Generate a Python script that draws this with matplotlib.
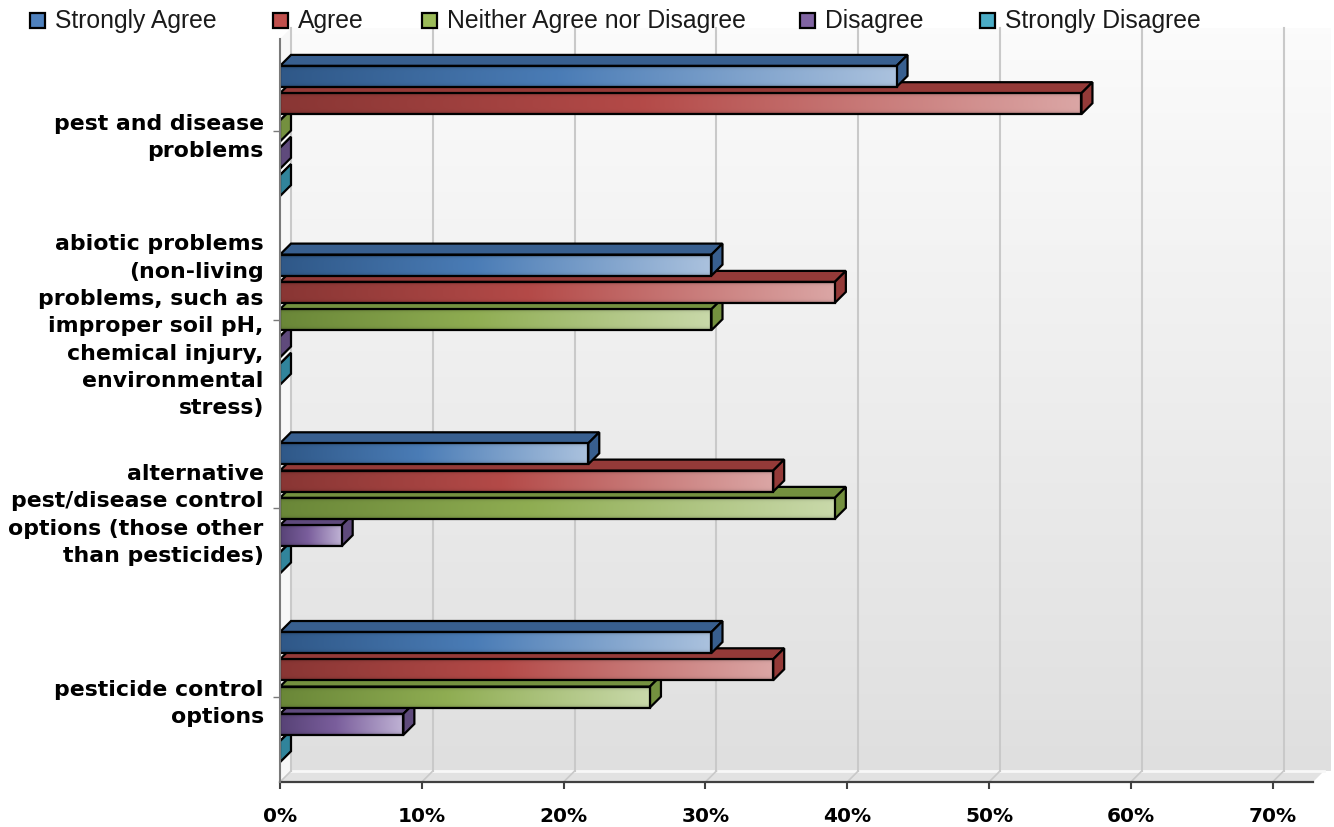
import numpy as np
import matplotlib.pyplot as plt
from matplotlib.patches import Polygon, Rectangle
from matplotlib.colors import to_rgb

# data (share of 23 respondents, %)
categories = ["pest and disease\nproblems",
              "abiotic problems\n(non-living\nproblems, such as\nimproper soil pH,\nchemical injury,\nenvironmental\nstress)",
              "alternative\npest/disease control\noptions (those other\nthan pesticides)",
              "pesticide control\noptions"]
series = ["Strongly Agree", "Agree", "Neither Agree nor Disagree", "Disagree", "Strongly Disagree"]
strongly_agree = [43.48, 30.43, 21.74, 30.43]
agree = [56.52, 39.13, 34.78, 34.78]
neither = [0.0, 30.43, 39.13, 26.09]
disagree = [0.0, 0.0, 4.35, 8.70]
strongly_disagree = [0.0, 0.0, 0.0, 0.0]
values = [strongly_agree, agree, neither, disagree, strongly_disagree]
xticks = [0, 10, 20, 30, 40, 50, 60, 70]
xtick_labels = ["0%", "10%", "20%", "30%", "40%", "50%", "60%", "70%"]

# colours: legend/base, side faces, gradient left / mid / right
base = ["#4f81bd", "#c0504d", "#9bbb59", "#8064a2", "#4bacc6"]
face = ["#385f8f", "#943a38", "#74903f", "#5f4a7c", "#31849b"]
g_left = ["#2f5888", "#893634", "#6a8738", "#574276", "#2e7f95"]
g_mid = ["#4a7cb6", "#b44a48", "#8fad52", "#7a5e9c", "#47a2bb"]
g_right = ["#abc2de", "#dba6a5", "#c9d9aa", "#c0b3d5", "#a9d8e6"]

# geometry (pixel based)
W, H = 1334, 828
PXX = 14.18      # px per percent
PXY = 188.7      # px per category
dx = 11 / PXX
dy = 11 / PXY
slot = 27.3 / PXY
bar_h = 21 / PXY

fig = plt.figure(figsize=(W / 100, H / 100), dpi=100)
ax_left, ax_bottom, ax_top = 280, 783, 25
ax = fig.add_axes([ax_left / W, (H - ax_bottom) / H, (W - ax_left) / W, (ax_bottom - ax_top) / H])
ax.set_facecolor("none")
xmax = (W - ax_left) / PXX
y_top = (ax_top - 132) / PXY
y_bot = (ax_bottom - 132) / PXY
x_axis_end = (1313 - ax_left) / PXX
wall_right = (1330 - ax_left) / PXX
wall_top = (29 - 132) / PXY
floor_back = y_bot - dy

# back wall gradient
wall = np.linspace(0.985, 0.875, 256)[:, None] * np.ones((1, 2))
wall_rgb = np.dstack([wall, wall, wall])
ax.imshow(wall_rgb, extent=(dx, wall_right, floor_back, wall_top), aspect="auto",
          interpolation="bilinear", zorder=0.2)
# left wall
ax.add_patch(Polygon([(0, wall_top + dy), (dx, wall_top), (dx, floor_back), (0, y_bot)],
                     closed=True, facecolor="#f7f7f7", edgecolor="none", zorder=0.3))
# floor
ax.add_patch(Polygon([(0, y_bot), (x_axis_end, y_bot), (x_axis_end + dx, floor_back), (dx, floor_back)],
                     closed=True, facecolor="#e2e2e2", edgecolor="none", zorder=0.3))
ax.plot([dx, x_axis_end + dx], [floor_back, floor_back], color="#f8f8f8", lw=2, zorder=0.4)

# gridlines on wall and floor
for t in xticks:
    ax.plot([t + dx, t + dx], [wall_top, floor_back], color="#c9c9c9", lw=1.5, zorder=0.5)
    ax.plot([t, t + dx], [y_bot, floor_back], color="#c9c9c9", lw=1.2, zorder=0.5)

# gradient image for bar fronts
def front_image(i):
    cols = np.linspace(0, 1, 256)
    l, m, r = np.array(to_rgb(g_left[i])), np.array(to_rgb(g_mid[i])), np.array(to_rgb(g_right[i]))
    row = np.where(cols[:, None] < 0.45,
                   l + (m - l) * (cols[:, None] / 0.45),
                   m + (r - m) * ((cols[:, None] - 0.45) / 0.55))
    vt = np.linspace(-1, 1, 16)[:, None, None]
    shade = 1 - 0.18 * np.abs(vt) ** 6
    return np.clip(row[None, :, :] * shade, 0, 1)

z = 2.0
for g in range(len(categories)):
    for s in range(len(series) - 1, -1, -1):
        v = values[s][g]
        c = g + (s - 2) * slot
        top, bot = c - bar_h / 2, c + bar_h / 2
        z += 0.01
        ax.add_patch(Polygon([(0, top), (v, top), (v + dx, top - dy), (dx, top - dy)], closed=True,
                             facecolor=face[s], edgecolor="black", lw=1.6, joinstyle="miter", zorder=z))
        ax.add_patch(Polygon([(v, top), (v + dx, top - dy), (v + dx, bot - dy), (v, bot)], closed=True,
                             facecolor=face[s], edgecolor="black", lw=1.6, joinstyle="miter", zorder=z))
        if v > 0:
            ax.imshow(front_image(s), extent=(0, v, bot, top), aspect="auto",
                      interpolation="bilinear", zorder=z + 0.001)
            ax.add_patch(Rectangle((0, top), v, bar_h, facecolor="none", edgecolor="black",
                                   lw=1.6, zorder=z + 0.002))

ax.set_xlim(0, xmax)
ax.set_ylim(y_bot, y_top)

for side in ["top", "right"]:
    ax.spines[side].set_visible(False)
ax.spines["left"].set_bounds(y_bot, (40 - 132) / PXY)
ax.spines["left"].set_color("#7a7a7a")
ax.spines["left"].set_linewidth(1.5)
ax.spines["left"].set_zorder(5)
ax.spines["bottom"].set_bounds(0, x_axis_end)
ax.spines["bottom"].set_color("#404040")
ax.spines["bottom"].set_linewidth(1.6)

ax.set_xticks(xticks)
ax.set_xticklabels(xtick_labels, fontsize=14.5, fontweight="bold", family="DejaVu Sans")
ax.tick_params(axis="x", direction="out", length=5, width=1.5, color="#404040", pad=12)
ax.set_yticks(range(len(categories)))
ax.set_yticklabels(categories, fontsize=15.8, fontweight="bold", family="DejaVu Sans",
                   linespacing=1.46)
ax.tick_params(axis="y", direction="out", length=5, width=1, color="#7a7a7a", pad=6.7)

# legend along the top
leg_x = [30, 273, 422, 800, 980]
for i, name in enumerate(series):
    fig.patches.append(Rectangle((leg_x[i] / W, (H - 29) / H), 15 / W, 15 / H, transform=fig.transFigure,
                                 facecolor=base[i], edgecolor="black", lw=1.6))
    fig.text((leg_x[i] + 25) / W, (H - 21) / H, name, fontsize=17.8, family="Liberation Sans",
             ha="left", va="center", color="#1a1a1a")

fig.savefig("out.png", dpi=100)
